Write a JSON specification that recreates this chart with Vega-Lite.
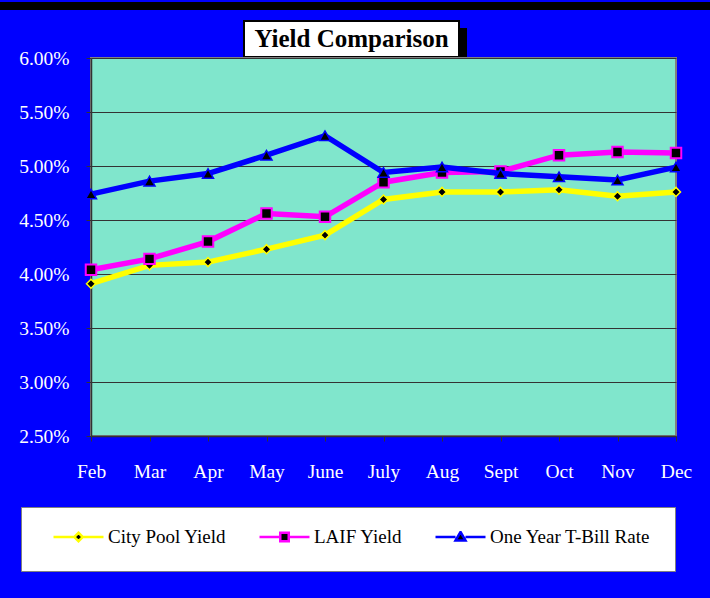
{
  "$schema": "https://vega.github.io/schema/vega-lite/v6.json",
  "background": "#0000FF",
  "padding": {"top": 2, "bottom": 26, "left": 0, "right": 0},
  "spacing": 10,
  "resolve": {"scale": {"color": "independent"}, "legend": {"color": "independent"}},
  "config": {
    "font": "Liberation Serif",
    "axis": {
      "labelFont": "Liberation Serif",
      "labelFontSize": 19.5,
      "labelColor": "white",
      "tickColor": "#333333",
      "tickSize": 5,
      "domainColor": "#333333",
      "domainWidth": 1.5,
      "title": null
    }
  },
  "vconcat": [
    {
      "width": 710,
      "height": 8,
      "data": {"values": [{"band": "top"}]},
      "view": {"fill": "white", "stroke": null},
      "mark": {"type": "rect", "color": "black", "xOffset": 9, "y2Offset": -3},
      "encoding": {}
    },
    {
      "spacing": 0,
      "resolve": {"scale": {"color": "independent"}, "legend": {"color": "independent"}},
      "hconcat": [
        {
          "width": 17,
          "height": 1,
          "data": {"values": [{"spacer": "left"}]},
          "view": {"stroke": null},
          "mark": {"type": "rect", "opacity": 0},
          "encoding": {}
        },
        {
          "spacing": -13,
          "resolve": {"scale": {"color": "independent"}, "legend": {"color": "independent"}},
          "vconcat": [
            {
              "spacing": 0,
              "hconcat": [
                {
                  "width": 151.5,
                  "height": 1,
                  "data": {"values": [{"spacer": "title"}]},
                  "view": {"stroke": null},
                  "mark": {"type": "rect", "opacity": 0},
                  "encoding": {}
                },
                {
                  "width": 215,
                  "height": 36,
                  "data": {"values": [{"title": "Yield Comparison"}]},
                  "view": {"stroke": null},
                  "layer": [
                    {"mark": {"type": "rect", "color": "black", "xOffset": 8, "x2Offset": 8, "yOffset": 7, "y2Offset": 7}, "encoding": {}},
                    {"mark": {"type": "rect", "fill": "white", "stroke": "black", "strokeWidth": 2}, "encoding": {}},
                    {"mark": {"type": "text", "font": "Liberation Serif", "fontSize": 25, "fontWeight": "bold", "color": "black"}, "encoding": {"text": {"field": "title"}}}
                  ]
                }
              ]
            },
            {
              "width": 585,
              "height": 378,
              "view": {"fill": "#80E6CC", "stroke": "#808080", "strokeWidth": 2},
              "data": {"values": [
                {"month": "Feb", "series": "City Pool Yield", "value": 0.0391},
                {"month": "Mar", "series": "City Pool Yield", "value": 0.0408},
                {"month": "Apr", "series": "City Pool Yield", "value": 0.0411},
                {"month": "May", "series": "City Pool Yield", "value": 0.0423},
                {"month": "June", "series": "City Pool Yield", "value": 0.0436},
                {"month": "July", "series": "City Pool Yield", "value": 0.0469},
                {"month": "Aug", "series": "City Pool Yield", "value": 0.0476},
                {"month": "Sept", "series": "City Pool Yield", "value": 0.0476},
                {"month": "Oct", "series": "City Pool Yield", "value": 0.0478},
                {"month": "Nov", "series": "City Pool Yield", "value": 0.0472},
                {"month": "Dec", "series": "City Pool Yield", "value": 0.0476},
                {"month": "Feb", "series": "LAIF Yield", "value": 0.0404},
                {"month": "Mar", "series": "LAIF Yield", "value": 0.0414},
                {"month": "Apr", "series": "LAIF Yield", "value": 0.0430},
                {"month": "May", "series": "LAIF Yield", "value": 0.0456},
                {"month": "June", "series": "LAIF Yield", "value": 0.0453},
                {"month": "July", "series": "LAIF Yield", "value": 0.0485},
                {"month": "Aug", "series": "LAIF Yield", "value": 0.0494},
                {"month": "Sept", "series": "LAIF Yield", "value": 0.0495},
                {"month": "Oct", "series": "LAIF Yield", "value": 0.0510},
                {"month": "Nov", "series": "LAIF Yield", "value": 0.0513},
                {"month": "Dec", "series": "LAIF Yield", "value": 0.0512},
                {"month": "Feb", "series": "One Year T-Bill Rate", "value": 0.0474},
                {"month": "Mar", "series": "One Year T-Bill Rate", "value": 0.0486},
                {"month": "Apr", "series": "One Year T-Bill Rate", "value": 0.0493},
                {"month": "May", "series": "One Year T-Bill Rate", "value": 0.0510},
                {"month": "June", "series": "One Year T-Bill Rate", "value": 0.0528},
                {"month": "July", "series": "One Year T-Bill Rate", "value": 0.0494},
                {"month": "Aug", "series": "One Year T-Bill Rate", "value": 0.0499},
                {"month": "Sept", "series": "One Year T-Bill Rate", "value": 0.0493},
                {"month": "Oct", "series": "One Year T-Bill Rate", "value": 0.0490},
                {"month": "Nov", "series": "One Year T-Bill Rate", "value": 0.0487},
                {"month": "Dec", "series": "One Year T-Bill Rate", "value": 0.0499}
              ]},
              "encoding": {
                "x": {
                  "field": "month", "type": "ordinal",
                  "sort": ["Feb", "Mar", "Apr", "May", "June", "July", "Aug", "Sept", "Oct", "Nov", "Dec"],
                  "scale": {"type": "point", "padding": 0},
                  "axis": {"labelAngle": 0, "labelPadding": 21, "grid": false}
                },
                "y": {
                  "field": "value", "type": "quantitative",
                  "scale": {"domain": [0.025, 0.06], "nice": false, "zero": false},
                  "axis": {
                    "format": ".2%",
                    "values": [0.025, 0.03, 0.035, 0.04, 0.045, 0.05, 0.055, 0.06],
                    "labelPadding": 17,
                    "grid": true,
                    "gridColor": "#333333",
                    "gridWidth": 1
                  }
                }
              },
              "layer": [
                {
                  "transform": [{"filter": "datum.series === 'City Pool Yield'"}],
                  "mark": {"type": "line", "strokeWidth": 5.5},
                  "encoding": {
                    "color": {
                      "field": "series", "type": "nominal",
                      "scale": {"domain": ["City Pool Yield", "LAIF Yield", "One Year T-Bill Rate"], "range": ["#FFFF00", "#FF00FF", "#0000FF"]},
                      "legend": {
                        "title": null, "orient": "none", "legendX": -70, "legendY": 449, "direction": "horizontal",
                        "fillColor": "white", "strokeColor": "#808080", "padding": 24, "columnPadding": 24, "symbolOffset": 7, "clipHeight": 12,
                        "labelOffset": 3, "labelFont": "Liberation Serif", "labelFontSize": 19, "labelColor": "black", "labelLimit": 400,
                        "symbolSize": 2500, "symbolStrokeWidth": 2.5, "symbolFillColor": "black", "symbolOpacity": 1,
                        "encode": {"symbols": {"update": {
                          "shape": {"signal": "datum.value === 'City Pool Yield' ? 'M-1,0H-0.17M0.17,0H1M0,-0.17L0.17,0L0,0.17L-0.17,0Z' : datum.value === 'LAIF Yield' ? 'M-1,0H-0.17M0.17,0H1M-0.17,-0.17H0.17V0.17H-0.17Z' : 'M-1,0H-0.2M0.2,0H1M0,-0.2L0.2,0.14H-0.2Z'"},
                          "fill": {"value": "black"},
                          "strokeWidth": {"value": 2.5}
                        }}}
                      }
                    }
                  }
                },
                {
                  "transform": [{"filter": "datum.series === 'City Pool Yield'"}],
                  "mark": {"type": "point", "shape": "diamond", "filled": true, "fill": "black", "stroke": "#FFFF00", "strokeWidth": 1.5, "size": 81, "opacity": 1}
                },
                {
                  "transform": [{"filter": "datum.series === 'LAIF Yield'"}],
                  "mark": {"type": "line", "strokeWidth": 5.5},
                  "encoding": {
                    "color": {
                      "field": "series", "type": "nominal",
                      "scale": {"domain": ["City Pool Yield", "LAIF Yield", "One Year T-Bill Rate"], "range": ["#FFFF00", "#FF00FF", "#0000FF"]}
                    }
                  }
                },
                {
                  "transform": [{"filter": "datum.series === 'LAIF Yield'"}],
                  "mark": {"type": "point", "shape": "square", "filled": true, "fill": "black", "stroke": "#FF00FF", "strokeWidth": 2, "size": 110, "opacity": 1}
                },
                {
                  "transform": [{"filter": "datum.series === 'One Year T-Bill Rate'"}],
                  "mark": {"type": "line", "strokeWidth": 5.5},
                  "encoding": {
                    "color": {
                      "field": "series", "type": "nominal",
                      "scale": {"domain": ["City Pool Yield", "LAIF Yield", "One Year T-Bill Rate"], "range": ["#FFFF00", "#FF00FF", "#0000FF"]}
                    }
                  }
                },
                {
                  "transform": [{"filter": "datum.series === 'One Year T-Bill Rate'"}],
                  "mark": {"type": "point", "shape": "triangle-up", "filled": true, "fill": "black", "stroke": "#0000FF", "strokeWidth": 1.5, "size": 121, "opacity": 1}
                }
              ]
            }
          ]
        }
      ]
    }
  ]
}
